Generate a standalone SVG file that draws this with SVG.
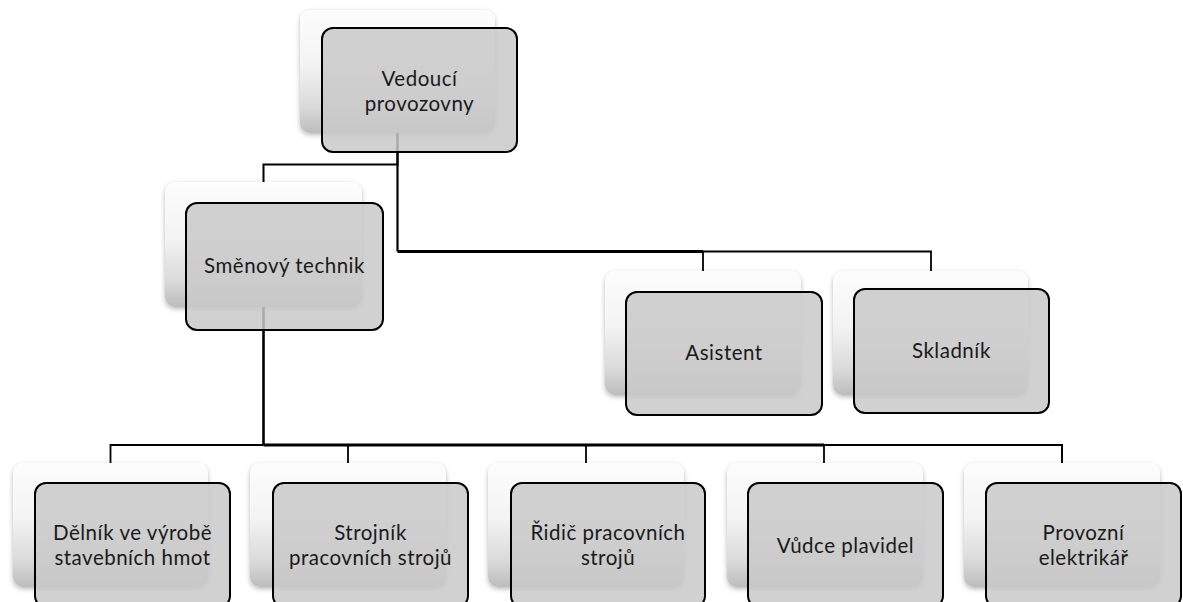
<svg xmlns="http://www.w3.org/2000/svg" width="1183" height="602" viewBox="0 0 1183 602">
<defs>
<linearGradient id="backGrad" x1="0" y1="0" x2="0" y2="1">
<stop offset="0" stop-color="#fdfdfd"/>
<stop offset="0.45" stop-color="#f3f3f3"/>
<stop offset="0.8" stop-color="#d9d9d9"/>
<stop offset="1" stop-color="#bcbcbc"/>
</linearGradient>
<filter id="shadow" x="-10%" y="-10%" width="125%" height="130%">
<feDropShadow dx="0" dy="2" stdDeviation="2.5" flood-color="#000" flood-opacity="0.28"/>
</filter>
</defs>
<style>
.back{fill:url(#backGrad);filter:url(#shadow);}
.front{fill:#c9c9c9;fill-opacity:0.85;stroke:#000;stroke-width:2;}
.lbl{font-family:Lato,"Liberation Sans",sans-serif;font-size:20.5px;letter-spacing:0.5px;fill:#1a1a1a;text-anchor:middle;}
.c{fill:none;stroke:#000;stroke-linecap:butt;stroke-linejoin:miter;}
</style>
<rect width="1183" height="602" fill="#fff"/>
<g id="connectors">
<path class="c" stroke-width="2" d="M397.5,133 V164.5 H263.5 V182"/>
<path class="c" stroke-width="2.2" d="M397.5,133 V251.5"/>
<path class="c" stroke-width="3" d="M397.5,251.5 H703"/>
<path class="c" stroke-width="1.8" d="M703,251.5 V271 M703,251.5 H931 V271"/>
<path class="c" stroke-width="2.6" d="M263.5,307 V445"/>
<path class="c" stroke-width="1.8" d="M263.5,445 H110.5 V463 M348,445 V463 M586,445 V463 M824,445 V463"/>
<path class="c" stroke-width="3" d="M263.5,445 H824"/>
<path class="c" stroke-width="2" d="M824,445 H1062 V463"/>
</g>
<g id="n-vedouci">
<rect class="back" x="300" y="10" width="195" height="123" rx="10"/>
<rect class="front" x="322" y="28" width="195" height="124" rx="11"/>
<text class="lbl" x="419.5" y="85.5">Vedoucí</text>
<text class="lbl" x="419.5" y="110.5">provozovny</text>
</g>
<g id="n-smenovy">
<rect class="back" x="165" y="182" width="197" height="125" rx="10"/>
<rect class="front" x="186" y="203" width="197" height="127" rx="11"/>
<text class="lbl" x="284.5" y="273">Směnový technik</text>
</g>
<g id="n-asistent">
<rect class="back" x="605" y="271" width="196" height="124" rx="10"/>
<rect class="front" x="626" y="292" width="196" height="123" rx="11"/>
<text class="lbl" x="724" y="360">Asistent</text>
</g>
<g id="n-skladnik">
<rect class="back" x="833" y="271" width="195" height="124" rx="10"/>
<rect class="front" x="854" y="289" width="195" height="124" rx="11"/>
<text class="lbl" x="951.5" y="358">Skladník</text>
</g>
<g id="n-delnik">
<rect class="back" x="13" y="463" width="195" height="124" rx="10"/>
<rect class="front" x="35" y="483" width="195" height="124" rx="11"/>
<text class="lbl" x="132.5" y="539.5">Dělník ve výrobě</text>
<text class="lbl" x="132.5" y="564.5">stavebních hmot</text>
</g>
<g id="n-strojnik">
<rect class="back" x="250" y="463" width="196" height="124" rx="10"/>
<rect class="front" x="273" y="483" width="195" height="124" rx="11"/>
<text class="lbl" x="370.5" y="539.5">Strojník</text>
<text class="lbl" x="370.5" y="564.5">pracovních strojů</text>
</g>
<g id="n-ridic">
<rect class="back" x="488" y="463" width="196" height="124" rx="10"/>
<rect class="front" x="511" y="483" width="194" height="124" rx="11"/>
<text class="lbl" x="608" y="539.5">Řidič pracovních</text>
<text class="lbl" x="608" y="564.5">strojů</text>
</g>
<g id="n-vudce">
<rect class="back" x="727" y="463" width="196" height="124" rx="10"/>
<rect class="front" x="748" y="483" width="195" height="124" rx="11"/>
<text class="lbl" x="845.5" y="553">Vůdce plavidel</text>
</g>
<g id="n-provozni">
<rect class="back" x="964" y="463" width="196" height="124" rx="10"/>
<rect class="front" x="986" y="483" width="195" height="124" rx="11"/>
<text class="lbl" x="1083.5" y="539.5">Provozní</text>
<text class="lbl" x="1083.5" y="564.5">elektrikář</text>
</g>
</svg>
